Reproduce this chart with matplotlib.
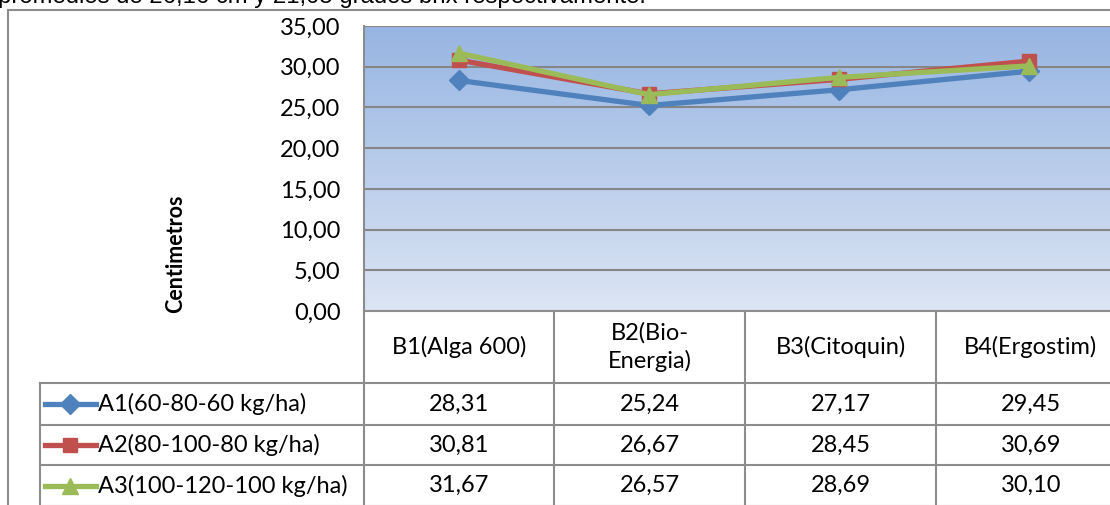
import numpy as np
import matplotlib.pyplot as plt
from matplotlib.lines import Line2D
from matplotlib.colors import LinearSegmentedColormap

plt.rcParams['font.family'] = ['Lato', 'DejaVu Sans']

# datos
categorias = ['B1(Alga 600)', 'B2(Bio-\nEnergia)', 'B3(Citoquin)', 'B4(Ergostim)']
series = ['A1(60-80-60 kg/ha)', 'A2(80-100-80 kg/ha)', 'A3(100-120-100 kg/ha)']
a1 = [28.31, 25.24, 27.17, 29.45]
a2 = [30.81, 26.67, 28.45, 30.69]
a3 = [31.67, 26.57, 28.69, 30.10]
valores = [a1, a2, a3]
colores = ['#4F81BD', '#C0504D', '#9BBB59']
marcadores = ['D', 's', '^']
tamanos = [10, 10.5, 12]
yticks = [0, 5, 10, 15, 20, 25, 30, 35]

W, H = 1110, 505
fig = plt.figure(figsize=(W / 100, H / 100), dpi=100)


def fx(x):
    return x / W


def fy(y):
    return 1 - y / H


def coma(v):
    return f'{v:.2f}'.replace('.', ',')


gris = '#8C8C8C'
fs = 17

# texto cortado arriba (como en la imagen original)
fig.text(fx(-2), fy(3), 'promedios de 26,16 cm y 21,05 grados brix respectivamente.',
         family='Liberation Sans', fontsize=17.2, va='baseline', ha='left')

# borde exterior
fig.add_artist(Line2D([fx(8), fx(1200)], [fy(10), fy(10)], color=gris, lw=1.5))
fig.add_artist(Line2D([fx(8), fx(8)], [fy(10), fy(600)], color=gris, lw=1.5))

# area de grafico
x0, x1, ytop, ybot = 364, 1124, 26, 311
ax = fig.add_axes([fx(x0), fy(ybot), fx(x1 - x0), (ybot - ytop) / H])
ax.set_xlim(-0.5, 3.5)
ax.set_ylim(0, 35)

cmap = LinearSegmentedColormap.from_list('fondo', ['#DCE5F4', '#97B5E2'])
grad = np.linspace(0, 1, 256).reshape(-1, 1)
ax.imshow(grad, extent=[-0.5, 3.5, 0, 35], origin='lower', aspect='auto', cmap=cmap, zorder=0)

for t in yticks[1:]:
    ax.axhline(t, color='#868686', lw=1.5, zorder=1)

x = np.arange(len(categorias))
for vals, c, m, s in zip(valores, colores, marcadores, tamanos):
    ax.plot(x, vals, color=c, lw=3.8, marker=m, markersize=s, zorder=3)

ax.set_xticks([])
ax.set_yticks(yticks)
ax.set_yticklabels([coma(t) for t in yticks], fontsize=fs)
ax.tick_params(axis='y', length=0, pad=17)
for lado in ['top', 'right', 'bottom']:
    ax.spines[lado].set_visible(False)
ax.spines['left'].set_color(gris)
ax.spines['left'].set_linewidth(1.5)

fig.text(fx(176), fy(254), 'Centimetros', rotation=90, fontsize=15.5,
         fontweight='bold', ha='center', va='center')

# tabla de datos
col_x = [364, 554, 745, 936, 1126]
fila_y = [311, 383, 425, 465, 506]
tabla_x0 = 40

for cx in col_x:
    fig.add_artist(Line2D([fx(cx), fx(cx)], [fy(311), fy(520)], color=gris, lw=1.5))
fig.add_artist(Line2D([fx(tabla_x0), fx(tabla_x0)], [fy(383), fy(520)], color=gris, lw=1.5))
fig.add_artist(Line2D([fx(364), fx(1200)], [fy(311), fy(311)], color=gris, lw=1.5))
for ry in fila_y[1:]:
    fig.add_artist(Line2D([fx(tabla_x0), fx(1200)], [fy(ry), fy(ry)], color=gris, lw=1.5))

for i, cat in enumerate(categorias):
    cxm = (col_x[i] + col_x[i + 1]) / 2
    fig.text(fx(cxm), fy((fila_y[0] + fila_y[1]) / 2), cat, ha='center', va='center',
             fontsize=fs, linespacing=1.3)

for j, (nombre, vals, c, m, s) in enumerate(zip(series, valores, colores, marcadores, tamanos)):
    yc = fy((fila_y[j + 1] + fila_y[j + 2]) / 2)
    fig.add_artist(Line2D([fx(45), fx(96)], [yc, yc], color=c, lw=3.8))
    fig.add_artist(Line2D([fx(70)], [yc], color=c, marker=m, markersize=s, lw=0))
    fig.text(fx(98), yc, nombre, ha='left', va='center', fontsize=fs)
    for i, v in enumerate(vals):
        cxm = (col_x[i] + col_x[i + 1]) / 2
        fig.text(fx(cxm), yc, coma(v), ha='center', va='center', fontsize=fs)

fig.savefig('out.png', dpi=100)
